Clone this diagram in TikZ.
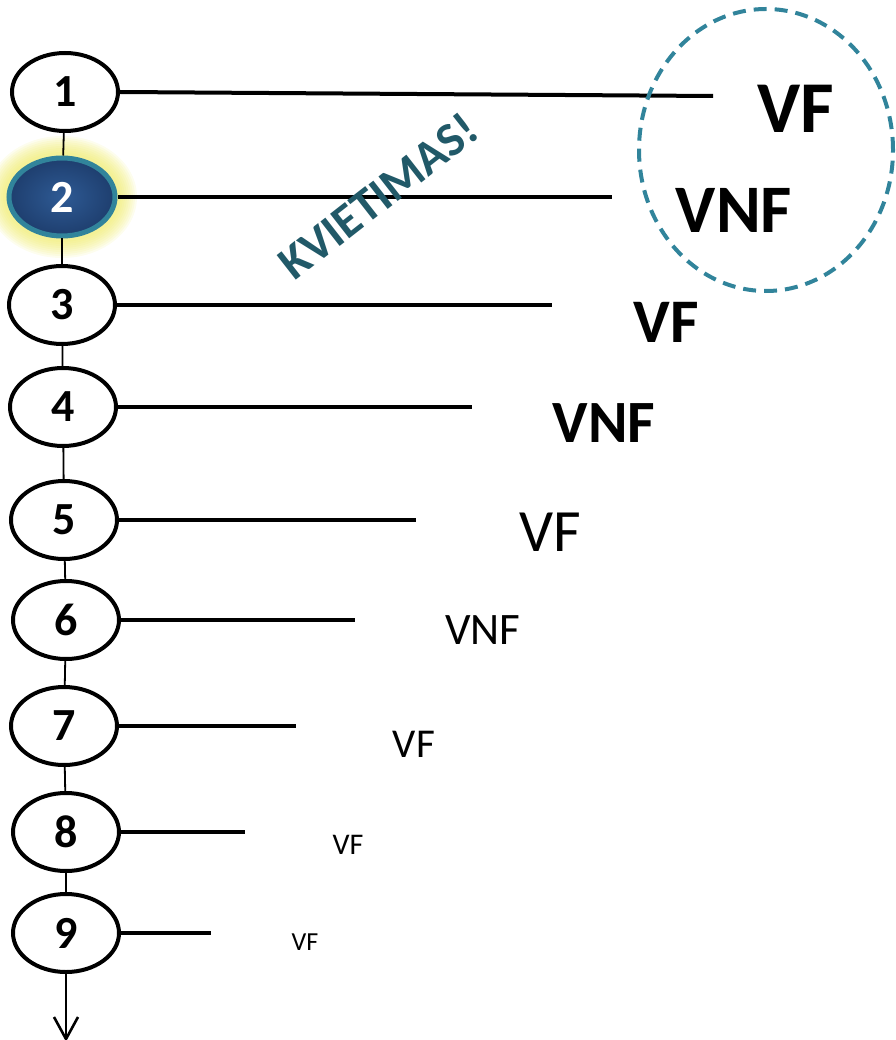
\documentclass[tikz,border=0pt]{standalone}
\usepackage{fontspec}
\setmainfont{Carlito}
\usetikzlibrary{shapes.geometric,backgrounds}
\definecolor{ringteal}{RGB}{49,132,155}
\definecolor{calldark}{RGB}{33,89,104}
\definecolor{stepblue}{RGB}{46,90,148}
\definecolor{stepdeep}{RGB}{30,62,110}
\definecolor{glowyellow}{RGB}{238,234,96}
\tikzset{
  stage/.style={ellipse,draw,line width=4pt,minimum width=106pt,minimum height=78pt,
    inner sep=0pt,font=\bfseries\fontsize{46}{46}\selectfont},
  current/.style={stage,draw=ringteal,line width=5pt,inner color=stepblue,
    outer color=stepdeep,text=white},
  chain/.style={double=black!55,line width=1.8pt,double distance=1.2pt},
  reply/.style={line width=4pt},
  verdict/.style={anchor=base,inner sep=0pt},
}
\begin{document}
\begin{tikzpicture}[x=1pt,y=-1pt]
      \useasboundingbox (0,0) rectangle (895,1040);
      \draw
        (65,92) node[stage] (1){1}
        (62,197) node[current] (2){2}
        (62,305) node[stage] (3){3}
        (63,407) node[stage] (4){4}
        (64,520) node[stage] (5){5}
        (66,620) node[stage] (6){6}
        (64,726) node[stage] (7){7}
        (66,832) node[stage] (8){8}
        (66,933) node[stage] (9){9};
      \begin{scope}[on background layer]
        \foreach \g in {1,...,9}
          \fill[glowyellow,opacity=0.11] (2) ellipse ({57pt+2pt*\g} and {43pt+2pt*\g});
      \end{scope}
      \coordinate (e1) at (713,96);
      \coordinate (e2) at (612,197);
      \coordinate (e3) at (552,305);
      \coordinate (e4) at (472,405);
      \coordinate (e5) at (416,520);
      \coordinate (e6) at (355,619);
      \coordinate (e7) at (296,726);
      \coordinate (e8) at (245,833);
      \coordinate (e9) at (211,932);
      \coordinate (end) at (66,1038);
      \begin{scope}[chain]
        \draw (1) to (2);
        \draw (2) to (3);
        \draw (3) to (4);
        \draw (4) to (5);
        \draw (5) to (6);
        \draw (6) to (7);
        \draw (7) to (8);
        \draw (8) to (9);
        \draw (9) to (end);
      \end{scope}
      \draw[line width=2.6pt,line join=miter] ([shift={(-12,-21)}]end) -- ([yshift=-1]end) -- ([shift={(12,-21)}]end);
      \begin{scope}[reply]
        \draw (1.east) to (e1);
        \draw (2.east) to (2.east -| e2);
        \draw (3.east) to (3.east -| e3);
        \draw (4.east) to (4.east -| e4);
        \draw (5.east) to (5.east -| e5);
        \draw (6.east) to (6.east -| e6);
        \draw (7.east) to (7.east -| e7);
        \draw (8.east) to (8.east -| e8);
        \draw (9.east) to (9.east -| e9);
      \end{scope}
      \node[verdict,font=\bfseries\fontsize{73}{73}\selectfont] (v1) at (796,133) {VF};
      \node[verdict,font=\bfseries\fontsize{68}{68}\selectfont] (v2) at (734,233) {VNF};
      \node[verdict,font=\bfseries\fontsize{62}{62}\selectfont] (v3) at (666,342) {VF};
      \node[verdict,font=\bfseries\fontsize{60}{60}\selectfont] (v4) at (604,442) {VNF};
      \node[verdict,font=\fontsize{60}{60}\selectfont] (v5) at (550,551) {VF};
      \node[verdict,font=\fontsize{45}{45}\selectfont] (v6) at (483,644) {VNF};
      \node[verdict,font=\fontsize{41}{41}\selectfont] (v7) at (414,757) {VF};
      \node[verdict,font=\fontsize{30}{30}\selectfont] (v8) at (348,854) {VF};
      \node[verdict,font=\fontsize{26}{26}\selectfont] (v9) at (305,950) {VF};
      \draw[ringteal,line width=4pt,dash pattern=on 13pt off 8pt] (766,150) ellipse (127pt and 141pt);
      \node[text=calldark,rotate=38,inner sep=0pt,font=\bfseries\fontsize{48}{48}\selectfont]
        (call) at (378,196) {KVIETIMAS!};
    \end{tikzpicture}
\end{document}
